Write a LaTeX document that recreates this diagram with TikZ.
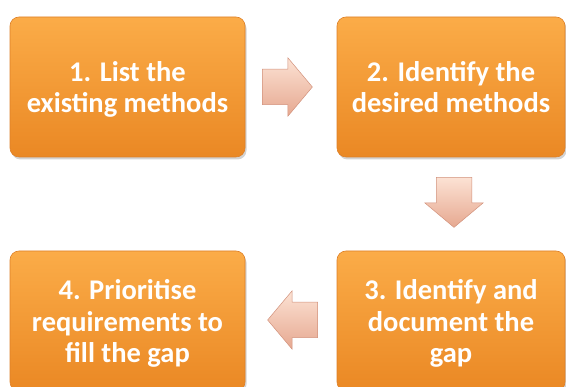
\documentclass[tikz,border=0pt]{standalone}
\usepackage{fontspec}
\setmainfont{Carlito}
\usepackage{tikz}
\usetikzlibrary{shapes.arrows, shadows, calc}

\definecolor{boxtop}{RGB}{251,172,72}
\definecolor{boxbot}{RGB}{234,136,36}
\definecolor{boxline}{RGB}{222,128,40}
\definecolor{arrtop}{RGB}{252,226,212}
\definecolor{arrbot}{RGB}{230,168,144}
\definecolor{arrline}{RGB}{210,146,124}

\tikzset{
  stepbox/.style={rectangle, rounded corners=9pt, draw=boxline, line width=0.6pt,
    top color=boxtop, bottom color=boxbot, text=white, align=center,
    font=\fontsize{28.5}{31.5}\selectfont\bfseries, inner sep=0pt, text depth=-11pt,
    drop shadow={opacity=0.35, shadow xshift=1.5pt, shadow yshift=-2.5pt}},
  blockarrow/.style={single arrow, draw=arrline, line width=0.5pt,
    top color=arrtop, bottom color=arrbot, minimum height=50pt,
    inner xsep=0pt, inner ysep=17.5pt, single arrow head extend=11.5pt,
    single arrow tip angle=100, anchor=tip},
  downarrow/.style={blockarrow, shape border rotate=270,
    inner xsep=17.5pt, inner ysep=0pt}
}

\begin{document}
\begin{tikzpicture}[x=1pt, y=1pt]
    \useasboundingbox (0,0) rectangle (566,387);

    \node[stepbox, minimum width=235pt, minimum height=140pt](list) at (127.5,300) {1. List the\\existing methods};
    \node[stepbox, minimum width=228pt, minimum height=140pt](ident) at (451,300) {2. Identify the\\desired methods};
    \node[stepbox, minimum width=228pt, minimum height=140pt](gap) at (451,66) {3. Identify and\\document the\\gap};
    \node[stepbox, minimum width=235pt, minimum height=140pt](prio) at (127.5,66) {4. Prioritise\\requirements to\\fill the gap};

    % block arrows between the steps
    \node[blockarrow](a12) at ($(ident.west)+(-24,0)$) {};
    \node[downarrow](a23) at ($(gap.north)+(3,23)$) {};
    \node[blockarrow, shape border rotate=180](a34) at ($(prio.east)+(22,1)$) {};
  \end{tikzpicture}
\end{document}
